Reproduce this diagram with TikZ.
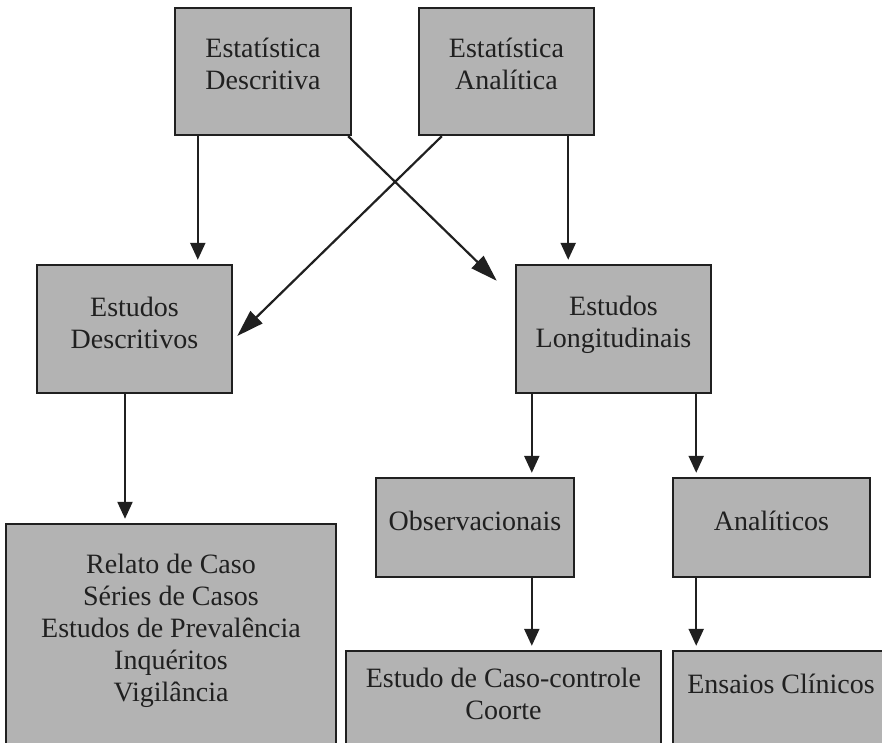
\documentclass[tikz,border=0pt]{standalone}
\usepackage{fontspec}
\setmainfont{Liberation Serif}
\usetikzlibrary{arrows.meta}

\begin{document}
\begin{tikzpicture}[x=1pt,y=-1pt]
    \definecolor{boxgray}{RGB}{179,179,179}
    \definecolor{ink}{RGB}{32,32,32}
    \tikzstyle{box}=[draw=ink, line width=2.4pt, fill=boxgray, inner sep=0pt]
    \tikzstyle{txt}=[align=center, text=ink, font=\fontsize{28}{32}\selectfont]
    \tikzstyle{arr}=[draw=ink, line width=2.2pt, shorten >=4pt,
        -{Triangle[length=17pt,width=15pt]}]
    \tikzstyle{diag}=[draw=ink, line width=2.2pt,
        -{Triangle[length=27pt,width=17pt]}]

    \useasboundingbox (0,0) rectangle (882,742);
    \clip (0,0) rectangle (882,742);

    % top row
    \node[box, minimum width=176pt, minimum height=127pt,
        label={[txt,yshift=7.5pt]center:Estatística\\Descritiva}] (estdesc) at (263,71.5) {};
    \node[box, minimum width=175pt, minimum height=127pt,
        label={[txt,yshift=7.5pt]center:Estatística\\Analítica}] (estanal) at (506.5,71.5) {};

    % middle row
    \node[box, minimum width=195pt, minimum height=128pt,
        label={[txt,yshift=6.5pt]center:Estudos\\Descritivos}] (estudesc) at (134.5,329) {};
    \node[box, minimum width=195pt, minimum height=128pt,
        label={[txt,yshift=4pt]center:Estudos\\Longitudinais}] (estulong) at (613.5,329) {};

    \node[box, minimum width=198pt, minimum height=99pt,
        label={[txt,yshift=7pt]center:Observacionais}] (obs) at (475,527.5) {};
    \node[box, minimum width=197pt, minimum height=99pt,
        label={[txt,yshift=7pt]center:Analíticos}] (anal) at (771.5,527.5) {};

    % bottom row (runs off the page)
    \node[box, minimum width=330pt, minimum height=240pt,
        label={[txt,yshift=13.5pt]center:Relato de Caso\\Séries de Casos\\Estudos de Prevalência\\Inquéritos\\Vigilância}]
        (relato) at (171,644) {};
    \node[box, minimum width=315pt, minimum height=120pt,
        label={[txt,yshift=17pt]center:Estudo de Caso-controle\\Coorte}] (caso) at (503.5,711) {};
    \node[box, minimum width=227pt, minimum height=120pt,
        label={[txt,yshift=27pt,xshift=-5.5pt]center:Ensaios Clínicos}] (ensaios) at (786.5,711) {};

    \coordinate (p1) at ([xshift=24pt]estdesc.south west);
    \coordinate (p2) at ([xshift=-27pt]estanal.south east);
    \coordinate (p3) at ([xshift=-9.5pt]estudesc.south);
    \coordinate (p4) at ([xshift=17pt]estulong.south west);
    \coordinate (p5) at ([xshift=-16pt]estulong.south east);

    \draw[arr] (p1) -- (p1 |- estudesc.north);
    \draw[arr] (p2) -- (p2 |- estulong.north);
    \draw[diag] ([xshift=-4pt]estdesc.south east) -- ([xshift=-18pt,yshift=-17pt]estulong.north west);
    \draw[diag] ([xshift=24pt]estanal.south west) -- ([xshift=4pt,yshift=-7pt]estudesc.east);
    \draw[arr] (p3) -- (p3 |- relato.north);
    \draw[arr] (p4) -- (p4 |- obs.north);
    \draw[arr] (p5) -- (p5 |- anal.north);
    \draw[arr] (p4 |- obs.south) -- (p4 |- caso.north);
    \draw[arr] (p5 |- anal.south) -- (p5 |- ensaios.north);
\end{tikzpicture}
\end{document}
